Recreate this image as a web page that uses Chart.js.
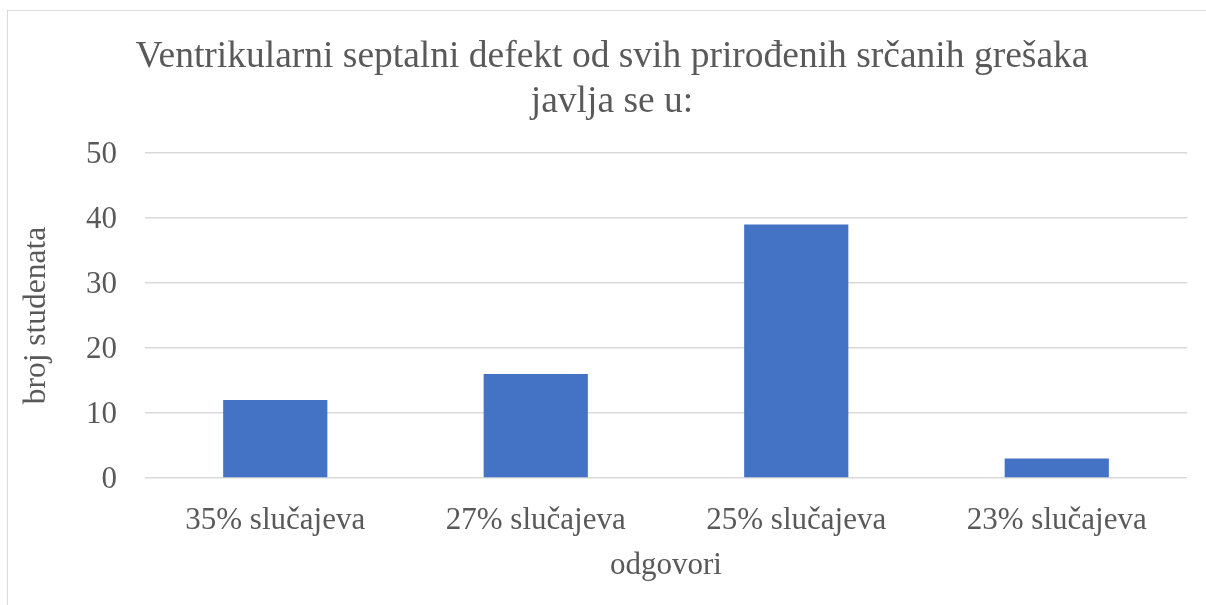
<!DOCTYPE html>
<html>
<head>
<meta charset="utf-8">
<script src="https://cdn.jsdelivr.net/npm/chart.js@4.4.0/dist/chart.umd.min.js"></script>
<style>
  html, body { margin: 0; padding: 0; background: #fff; overflow: hidden; width: 1206px; height: 605px; }
  #frame { position: absolute; left: 7px; top: 10px; width: 1210px; height: 600px; border: 1.5px solid #d9d9d9; box-sizing: border-box; }
  #wrap { position: absolute; left: 7px; top: 10px; width: 1210px; height: 595px; }
</style>
</head>
<body>
<div id="frame"></div>
<div id="wrap"><canvas id="c" width="1210" height="595"></canvas></div>
<script>
const categories = ["35% slučajeva", "27% slučajeva", "25% slučajeva", "23% slučajeva"];
const values = [12, 16, 39, 3];
const yTicks = [0, 10, 20, 30, 40, 50];
const titleLines = ["Ventrikularni septalni defekt od svih prirođenih srčanih grešaka", "javlja se u:"];
const xTitle = "odgovori";
const yTitle = "broj studenata";

const FONT = '"Liberation Serif", "Times New Roman", serif';
const TXT = '#595959';

new Chart(document.getElementById('c'), {
  type: 'bar',
  data: {
    labels: categories,
    datasets: [{
      data: values,
      backgroundColor: '#4472C4',
      borderWidth: 0,
      categoryPercentage: 1,
      barPercentage: 0.4
    }]
  },
  options: {
    responsive: false,
    animation: false,
    layout: { padding: { left: 0, right: 0, top: 0, bottom: 0 } },
    plugins: {
      legend: { display: false },
      tooltip: { enabled: false },
      title: {
        display: true,
        text: titleLines,
        color: TXT,
        font: { family: FONT, size: 37.5, weight: 'normal', lineHeight: 1.2 },
        padding: { top: 25, bottom: 28 }
      }
    },
    scales: {
      x: {
        grid: { display: false },
        border: { display: false },
        ticks: { color: TXT, font: { family: FONT, size: 31 }, padding: 16, maxRotation: 0 },
        title: { display: true, text: xTitle, color: TXT, font: { family: FONT, size: 31 }, padding: { top: 4, bottom: 21 } },
        afterFit: (s) => { s.height = 127; }
      },
      y: {
        min: 0, max: 50,
        afterBuildTicks: (s) => { s.ticks = yTicks.map(v => ({ value: v })); },
        grid: { color: '#d9d9d9', lineWidth: 1.5, drawTicks: false },
        border: { display: false },
        ticks: { color: TXT, font: { family: FONT, size: 31 }, padding: 28, labelOffset: 2 },
        title: { display: true, text: yTitle, color: TXT, font: { family: FONT, size: 31.5 }, padding: { top: 11, bottom: 0 } },
        afterFit: (s) => { s.width = 138; }
      },
      yr: {
        position: 'right',
        display: true,
        grid: { display: false },
        border: { display: false },
        ticks: { display: false },
        afterFit: (s) => { s.width = 30; }
      }
    }
  }
});
</script>
</body>
</html>
